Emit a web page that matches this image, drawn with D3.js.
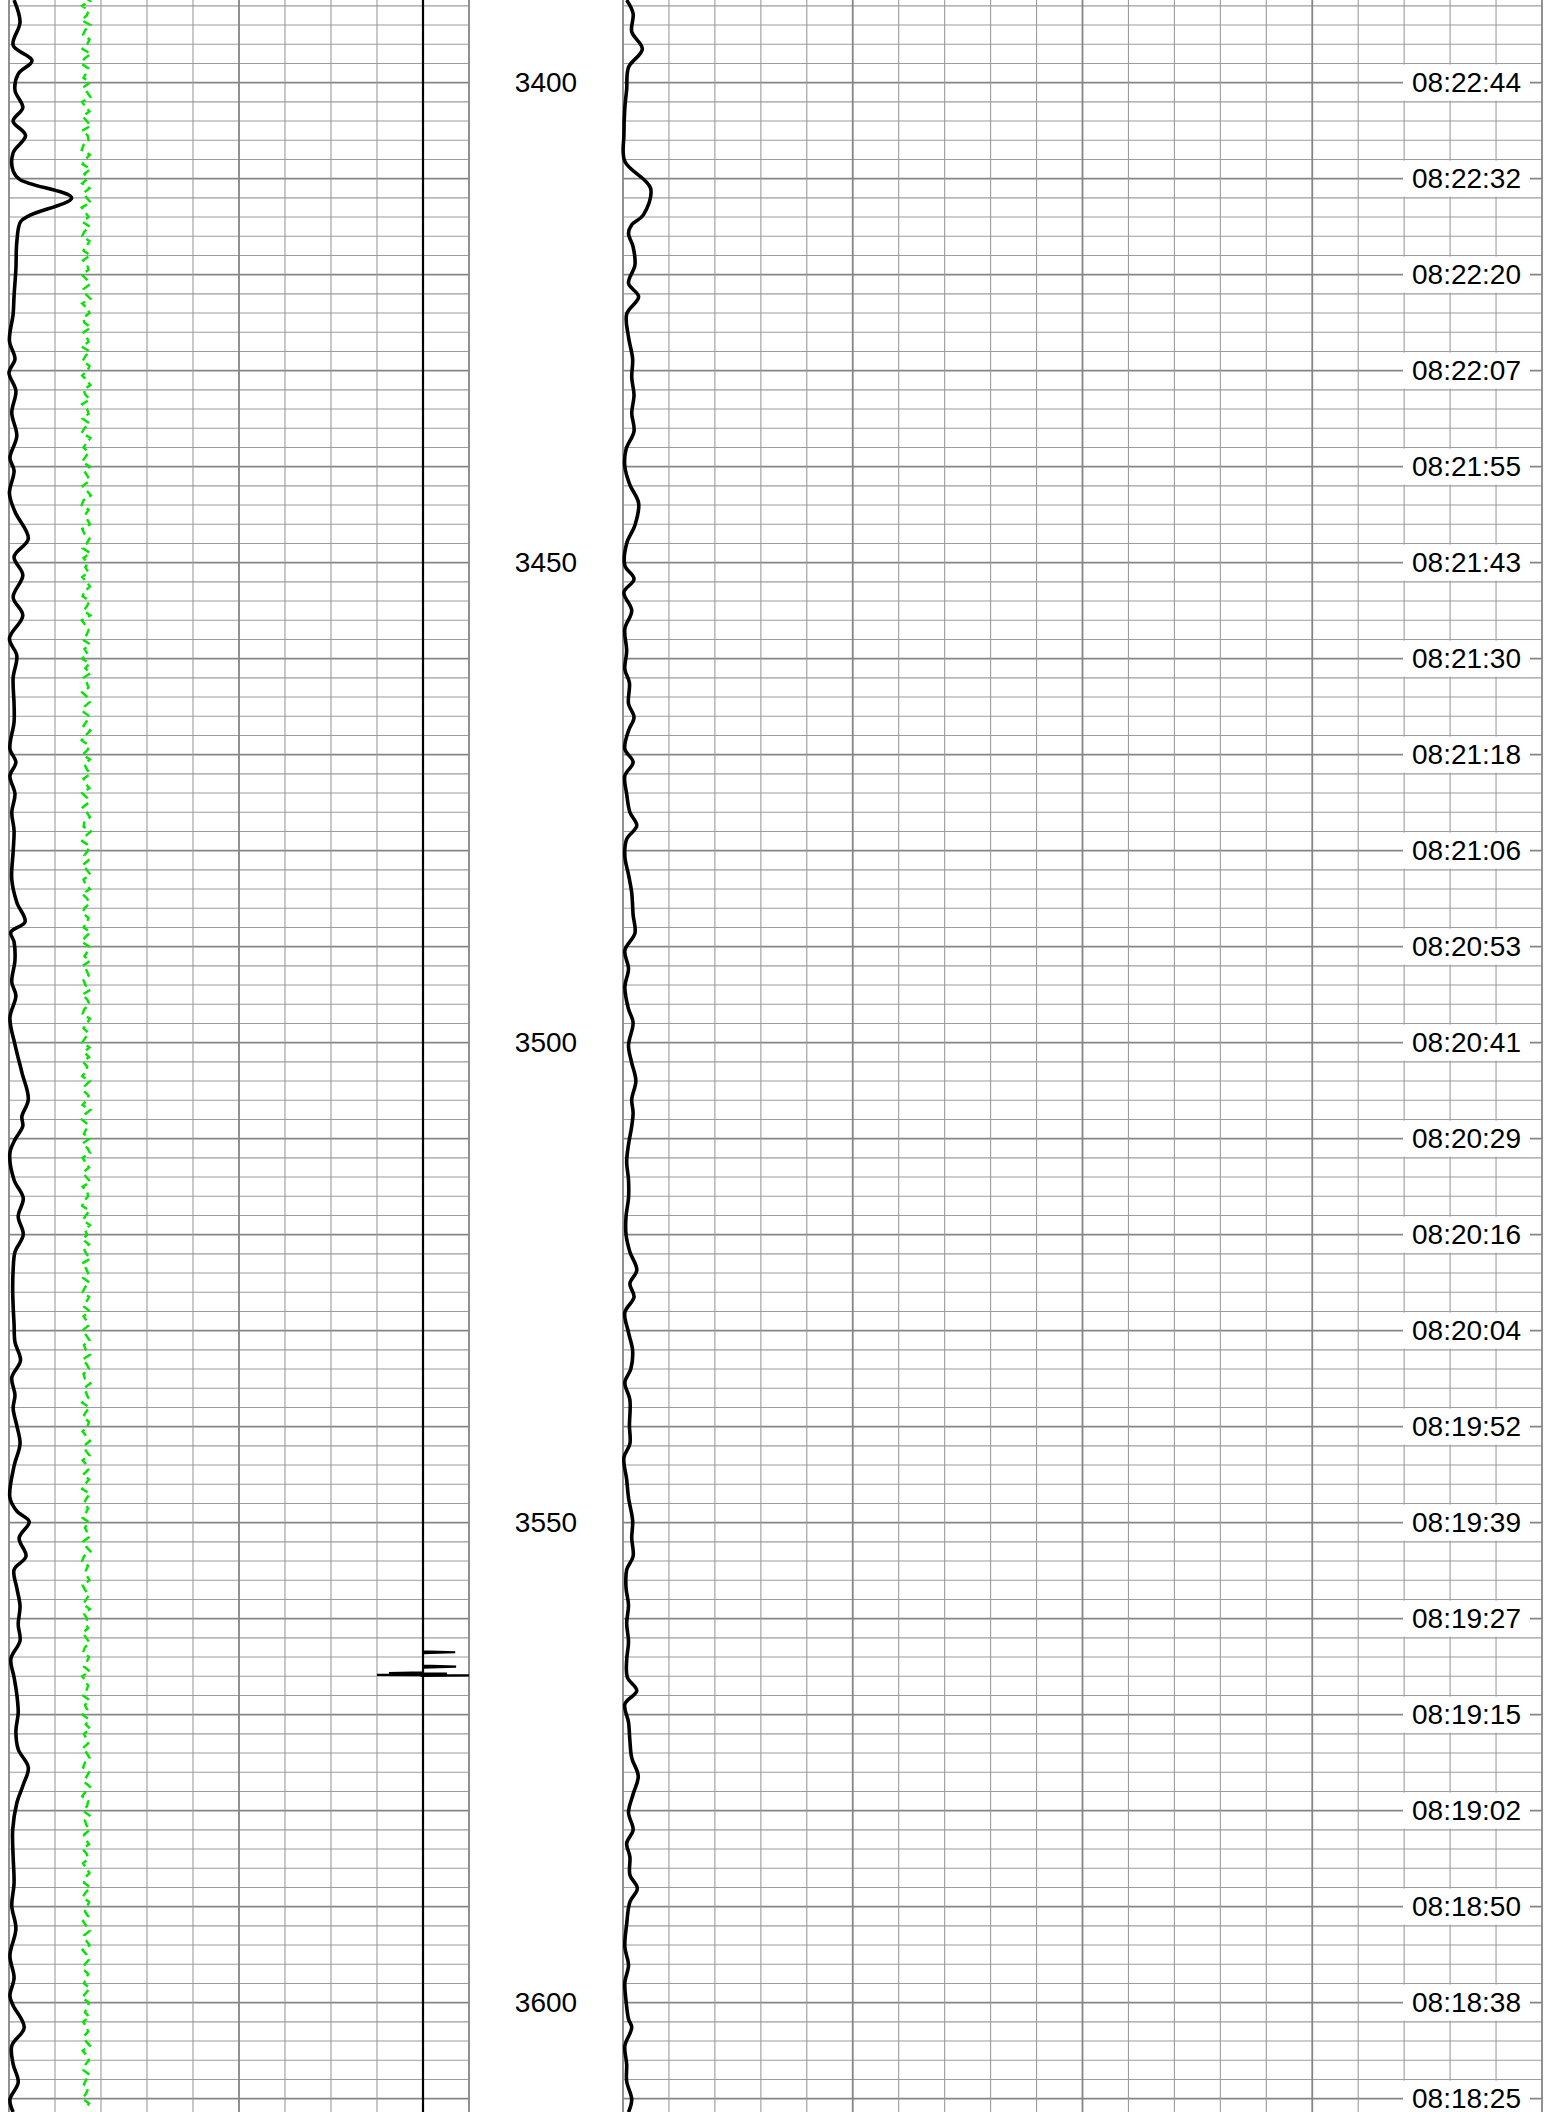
<!DOCTYPE html>
<html>
<head>
<meta charset="utf-8">
<script src="https://cdn.jsdelivr.net/npm/d3@7"></script>
<style>
	body { margin: 0; background: #fff; }
	svg { display: block; }
</style>
</head>
<body>
<script>
// depth window shown (same units as the depth labels)
const depthTop = 3391.39
const depthBottom = 3611.39

const depthLabels = [3400, 3450, 3500, 3550, 3600]

const timeDepth = [3400, 3410, 3420, 3430, 3440, 3450, 3460, 3470, 3480, 3490, 3500,
	3510, 3520, 3530, 3540, 3550, 3560, 3570, 3580, 3590, 3600, 3610]
const timeLabel = ["08:22:44", "08:22:32", "08:22:20", "08:22:07", "08:21:55", "08:21:43",
	"08:21:30", "08:21:18", "08:21:06", "08:20:53", "08:20:41", "08:20:29", "08:20:16",
	"08:20:04", "08:19:52", "08:19:39", "08:19:27", "08:19:15", "08:19:02", "08:18:50",
	"08:18:38", "08:18:25"]

// track 1, black curve (0-100 across the track)
const leftDepth = [3391.4, 3393.7, 3396.1, 3397.7, 3399.1, 3400.8, 3402.6, 3404.0, 3405.5, 3407.3,
	3409.2, 3410.1, 3412.0, 3413.8, 3414.5, 3416.6, 3419.4, 3422.2, 3424.1, 3426.9, 3428.8, 3430.2,
	3432.1, 3434.4, 3436.8, 3439.1, 3440.4, 3442.8, 3444.7, 3447.5, 3449.4, 3451.3, 3453.6, 3455.5,
	3457.9, 3459.7, 3462.0,
	3464.7, 3466.6, 3469.4, 3470.8, 3472.2, 3474.1, 3476.0, 3477.9, 3480.1, 3483.0, 3485.4, 3487.4,
	3488.5, 3489.5, 3491.4, 3493.7, 3495.1, 3497.4, 3500.2, 3503.1, 3505.9, 3507.7, 3508.7, 3510.1,
	3511.5, 3514.3, 3516.2, 3518.1, 3520.0, 3521.8, 3523.7, 3525.6, 3527.4, 3529.3, 3531.2, 3533.1,
	3534.9, 3536.7,
	3538.1, 3539.9, 3541.8, 3544.1, 3547.4, 3548.8, 3549.9, 3551.6, 3553.5, 3554.9, 3556.8, 3558.7,
	3560.6, 3562.3, 3564.2, 3566.1, 3567.9, 3569.8, 3571.7, 3573.6, 3575.5, 3577.3, 3579.2, 3582.0,
	3584.8, 3587.6, 3589.9, 3592.3, 3595.1, 3597.4, 3599.3, 3600.3, 3602.6, 3604.5, 3606.4, 3608.3,
	3610.1, 3611.4]
const leftValue = [1.1, 2.4, 0.9, 5.0, 2.0, 1.3, 3.0, 0.9, 3.6, 0.9, 0.9, 2.4, 13.6, 4.6, 2.5, 1.7,
	1.5, 1.1, 0.9, 0.1, 1.3, 0.0, 1.5, 0.6, 1.7, 0.2, 1.1, 0.1, 1.3, 4.2, 1.1, 3.0, 0.9, 3.0, 0.1, 1.7, 0.9,
	1.1, 1.1, 0.2, 1.5, 0.2, 1.3, 0.6, 1.1, 0.9, 0.6, 1.7, 3.5, 0.4, 1.1, 1.3, 0.6, 1.5, 0.2, 1.3, 2.8,
	4.2, 2.8, 3.0, 1.3, 0.2, 1.1, 3.1, 2.0, 3.1, 1.3, 0.9, 0.8, 0.9, 1.1, 1.3, 2.5, 0.6, 1.3,
	0.9, 1.7, 2.4, 1.1, 0.2, 1.7, 4.4, 2.2, 3.7, 1.1, 1.7, 2.4, 2.0, 2.4, 0.4, 1.1, 1.7, 2.0, 1.5, 2.0,
	4.2, 3.1, 1.7, 0.8, 0.9, 1.1, 0.6, 1.5, 0.2, 1.1, 0.2, 0.9, 3.3, 0.6, 0.9, 2.0, 0.2, 0.9]

// track 1, green dashed curve, one reading per half depth unit from 3391
const greenStart = 3391
const greenStep = 0.5
const greenValue = [16.3, 17.6, 15.9, 17.3, 16.9, 15.8, 17.7, 16.6, 16.1, 17.5, 17.0, 16.0, 17.8, 16.4, 15.7, 17.2, 16.8, 16.2, 17.6, 16.1,
	17.0, 17.7, 15.9, 16.6, 17.5, 16.0, 16.9, 17.8, 15.9, 17.1, 17.3, 16.2, 15.8, 17.6, 16.6, 16.0, 17.7, 16.4, 17.1, 15.9,
	17.5, 16.2, 16.9, 17.8, 15.8, 16.6, 17.3, 16.0, 17.6, 16.4, 15.9, 17.5, 16.9, 16.2, 17.7, 16.1, 17.0, 17.3, 15.8, 16.9,
	17.6, 16.2, 16.6, 17.7, 15.9, 17.0, 17.5, 16.1, 16.4, 17.8, 16.2, 16.9, 17.3, 15.8, 17.6, 16.6, 16.0, 17.5, 17.1, 15.9,
	16.9, 17.7, 16.2, 16.6, 17.6, 15.9, 17.0, 17.3, 16.0, 17.5, 16.4, 15.8, 17.7, 16.9, 16.2, 17.3, 16.6, 15.9, 17.6, 16.4,
	17.1, 17.5, 16.0, 16.9, 17.8, 16.2, 15.8, 17.3, 16.6, 17.0, 17.6, 15.9, 16.4, 17.5, 16.9, 16.0, 17.7, 16.2, 17.1, 16.6,
	17.3, 15.9, 16.9, 17.6, 16.4, 16.0, 17.5, 17.0, 16.2, 17.7, 15.8, 16.6, 17.3, 16.9, 16.0, 17.6, 16.4, 17.1, 15.9, 17.5,
	16.6, 17.8, 16.2, 16.9, 17.3, 15.9, 17.0, 17.6, 16.4, 16.0, 17.5, 16.9, 16.2, 17.7, 16.6, 15.8, 17.3, 17.1, 16.0, 17.6,
	16.4, 16.9, 17.7, 16.2, 16.6, 17.5, 15.9, 17.0, 17.3, 16.0, 16.9, 17.6, 16.4, 16.2, 17.8, 16.6, 15.9, 17.5, 17.1, 16.4,
	17.3, 16.0, 16.9, 17.7, 16.2, 16.6, 17.6, 15.9, 17.0, 17.5, 16.4, 16.0, 17.3, 16.9, 16.2, 17.7, 16.6, 15.8, 17.5, 17.1,
	16.4, 17.6, 16.0, 16.9, 17.3, 16.2, 16.6, 17.7, 15.9, 17.0, 17.5, 16.4, 16.0, 17.6, 16.9, 16.2, 17.3, 16.6, 15.9, 17.5,
	16.3, 17.4, 16.1, 17.0, 16.7, 15.9, 17.6, 16.5, 16.2, 17.3, 16.9, 16.0, 17.7, 16.4, 15.8, 17.1, 16.8, 16.3, 17.5, 16.0,
	17.1, 17.6, 16.0, 16.7, 17.4, 16.1, 16.8, 17.7, 16.0, 17.0, 17.2, 16.3, 15.9, 17.5, 16.7, 16.1, 17.6, 16.5, 17.0, 16.0,
	17.4, 16.3, 16.8, 17.7, 15.9, 16.7, 17.2, 16.1, 17.5, 16.5, 16.0, 17.4, 16.8, 16.3, 17.6, 16.2, 16.9, 17.2, 15.9, 16.8,
	17.5, 16.3, 16.7, 17.6, 16.0, 16.9, 17.4, 16.2, 16.5, 17.7, 16.3, 16.8, 17.2, 15.9, 17.5, 16.7, 16.1, 17.4, 17.0, 16.0,
	16.8, 17.6, 16.3, 16.7, 17.5, 16.0, 16.9, 17.2, 16.1, 17.4, 16.5, 15.9, 17.6, 16.8, 16.3, 17.2, 16.7, 16.0, 17.5, 16.5,
	17.0, 17.4, 16.1, 16.8, 17.7, 16.3, 15.9, 17.2, 16.7, 16.9, 17.5, 16.0, 16.5, 17.4, 16.8, 16.1, 17.6, 16.3, 17.0, 16.7,
	17.2, 16.0, 16.8, 17.5, 16.5, 16.1, 17.4, 16.9, 16.3, 17.6, 15.9, 16.7, 17.2, 16.8, 16.1, 17.5, 16.5, 17.0, 16.0, 17.4,
	16.7, 17.7, 16.3, 16.8, 17.2, 16.0, 16.9, 17.5, 16.5, 16.1, 17.4, 16.8, 16.3, 17.6, 16.7, 15.9, 17.2, 17.0, 16.1, 17.5,
	16.5, 16.8, 17.6, 16.3, 16.7, 17.4, 16.0, 16.9, 17.2, 16.1, 16.8, 17.5, 16.5, 16.3, 17.7, 16.7, 16.0, 17.4, 17.0, 16.5,
	17.2, 16.1, 16.8, 17.6, 16.3, 16.7, 17.5, 16.0, 16.9, 17.4, 16.5, 16.1, 17.2, 16.8, 16.3, 17.6, 16.7, 15.9, 17.4, 17.0,
	16.5, 17.5, 16.1, 16.8, 17.2, 16.3, 16.7, 17.6, 16.0, 16.9, 17.4, 16.5, 16.1, 17.5, 16.8, 16.3, 17.2, 16.7, 16.0, 17.4,
	16.6]

// track 1, thin black curve near the right edge with a few spikes
const spikeDepth = [3391.4, 3563.4, 3563.5, 3563.6, 3564.9, 3565.0, 3565.1, 3565.6, 3565.68, 3565.72,
	3565.8, 3565.85, 3565.9, 3565.95, 3566.0, 3611.4]
const spikeValue = [90, 90, 97, 90, 90, 97.2, 90, 90, 82.6, 95.2, 90, 80, 100, 89.5, 90, 90]

// track 2, black curve (0-100 across the track)
const rightDepth = [3391.4, 3392.8, 3394.7, 3396.5, 3398.4, 3400.7, 3402.6, 3405.4, 3408.2, 3411.0,
	3413.8, 3414.8, 3415.7, 3417.1, 3419.0, 3420.9, 3422.3, 3424.1, 3426.5, 3428.8, 3430.7, 3432.6,
	3434.4, 3436.3, 3438.2, 3440.0, 3441.9, 3443.8, 3446.1, 3448.0, 3450.3, 3451.7, 3453.1, 3455.0,
	3456.9, 3459.2, 3461.1, 3462.5,
	3464.7, 3466.1, 3467.5, 3469.4, 3470.8, 3472.2, 3474.1, 3476.0, 3477.4, 3478.8, 3480.6, 3482.5,
	3484.4, 3486.7, 3488.6, 3490.4, 3492.3, 3494.2, 3496.5, 3497.9, 3500.3, 3502.1, 3504.0, 3505.9,
	3507.3, 3508.7, 3510.6, 3512.4, 3514.3, 3516.2, 3518.1, 3520.0, 3521.8, 3523.7, 3525.1, 3526.5,
	3528.1, 3530.2, 3532.1, 3534.0, 3535.4, 3537.2,
	3539.9, 3541.8, 3543.2, 3545.5, 3547.4, 3549.8, 3551.6, 3553.5, 3554.9, 3556.8, 3558.6, 3560.5,
	3562.4, 3564.3, 3566.1, 3567.5, 3568.9, 3570.8, 3572.7, 3574.5, 3576.4, 3578.3, 3580.2, 3582.0,
	3583.4, 3584.8, 3586.7, 3588.1, 3589.5, 3591.8, 3594.2, 3596.1, 3597.9, 3599.8, 3601.7, 3602.6,
	3604.5, 3606.4, 3608.2, 3610.1, 3611.4]
const rightValue = [0.4, 1.1, 0.95, 2.1, 0.6, 0.4, 0.2, 0.1, 0.2, 3.0, 2.2, 0.95, 0.6, 1.1, 1.3, 0.6,
	1.7, 0.4, 0.6, 1.05, 0.95, 1.2, 0.95, 1.2, 0.33, 0.2, 0.75, 1.7, 1.3, 0.4, 0.2, 1.2, 0.1, 0.95, 0.2,
	0.4, 0.2, 0.7,
	0.6, 1.2, 0.6, 0.2, 1.1, 0.2, 0.4, 0.75, 1.5, 0.4, 0.2, 0.6, 0.95, 1.1, 1.3, 0.2, 0.6, 0.2, 0.6, 1.1,
	0.6, 0.95, 1.4, 0.95, 1.1, 0.95, 0.6, 0.4, 0.6, 0.6, 0.33, 0.33, 0.75, 1.5, 0.75, 1.2, 0.2, 0.6,
	1.05, 0.85, 0.2, 0.75,
	0.7, 0.75, 0.1, 0.4, 0.6, 1.05, 0.95, 1.1, 0.4, 0.33, 0.6, 0.4, 0.6, 0.4, 0.47, 1.5, 0.2, 0.6, 0.75,
	0.95, 1.66, 1.1, 0.6, 1.1, 0.4, 0.75, 0.75, 1.56, 0.75, 0.4, 0.2, 0.6, 0.2, 0.33, 0.6, 0.95, 0.2,
	0.4, 0.4, 0.95, 0.6]

const width = 1551
const height = 2112

let svg = d3.select("body").append("svg").attr("width", width).attr("height", height)
svg.append("rect").attr("width", width).attr("height", height).attr("fill", "#fff")

let y = d3.scaleLinear().domain([depthTop, depthBottom]).range([0, height])
let xL = d3.scaleLinear().domain([0, 100]).range([9, 469])
let xR = d3.scaleLinear().domain([0, 100]).range([623, 1542])

function drawGrid(x, step, majors) {
	let g = svg.append("g")
	let rows = d3.range(3392, depthBottom, 2)
	g.selectAll(".h").data(rows).enter().append("line")
		.attr("x1", x(0)).attr("x2", x(100))
		.attr("y1", d => y(d)).attr("y2", d => y(d))
		.attr("stroke", d => d % 10 == 0 ? "#858585" : "#9c9c9c")
		.attr("stroke-width", d => d % 10 == 0 ? 1.8 : 1.1)
	let cols = d3.range(0, 100.1, step)
	g.selectAll(".v").data(cols).enter().append("line")
		.attr("x1", d => x(d)).attr("x2", d => x(d))
		.attr("y1", 0).attr("y2", height)
		.attr("stroke", d => majors.includes(d) ? "#858585" : "#9c9c9c")
		.attr("stroke-width", d => majors.includes(d) ? 1.8 : 1.1)
}

drawGrid(xL, 10, [0, 50, 100])
drawGrid(xR, 5, [0, 25, 50, 75, 100])

let smooth = d3.line().curve(d3.curveCatmullRom.alpha(0.5))

svg.append("path")
	.attr("d", smooth(d3.zip(leftValue, leftDepth).map(d => [xL(d[0]), y(d[1])])))
	.attr("fill", "none").attr("stroke", "#000").attr("stroke-width", 3.6)
	.attr("stroke-linejoin", "round")

svg.append("path")
	.attr("d", d3.line()(greenValue.map((v, i) => [xL(v), y(greenStart + i * greenStep)])))
	.attr("fill", "none").attr("stroke", "#00e600").attr("stroke-width", 2.4)
	.attr("stroke-dasharray", "8,5")

svg.append("path")
	.attr("d", d3.line()(d3.zip(spikeValue, spikeDepth).map(d => [xL(d[0]), y(d[1])])))
	.attr("fill", "none").attr("stroke", "#000").attr("stroke-width", 2.2)

svg.append("path")
	.attr("d", smooth(d3.zip(rightValue, rightDepth).map(d => [xR(d[0]), y(d[1])])))
	.attr("fill", "none").attr("stroke", "#000").attr("stroke-width", 3.6)
	.attr("stroke-linejoin", "round")

// depth column
svg.selectAll(".depth").data(depthLabels).enter().append("text")
	.attr("x", (xL(100) + xR(0)) / 2).attr("y", d => y(d)).attr("dy", "0.35em")
	.attr("text-anchor", "middle")
	.attr("font-family", "Liberation Sans, Arial, sans-serif").attr("font-size", 28)
	.text(d => d)

// time labels on white boxes
let times = svg.selectAll(".time").data(d3.zip(timeDepth, timeLabel)).enter().append("g")
times.append("rect")
	.attr("x", 1403).attr("y", d => y(d[0]) - 18)
	.attr("width", 127).attr("height", 36).attr("fill", "#fff")
times.append("text")
	.attr("x", 1466.5).attr("y", d => y(d[0])).attr("dy", "0.35em")
	.attr("text-anchor", "middle")
	.attr("font-family", "Liberation Sans, Arial, sans-serif").attr("font-size", 28)
	.text(d => d[1])
</script>
</body>
</html>
